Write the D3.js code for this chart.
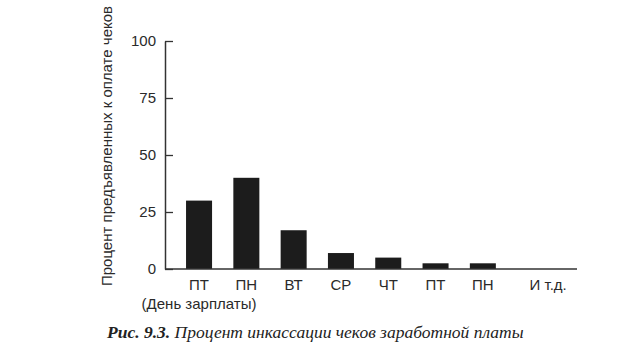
<!DOCTYPE html>
<html><head><meta charset="utf-8">
<script src="https://cdn.jsdelivr.net/npm/d3@7/dist/d3.min.js"></script>
<style>
body{margin:0;background:#fff;}
svg{display:block;}
.lbl{font-family:"Liberation Sans Narrow","Arial Narrow","Liberation Sans",sans-serif;fill:#2a2a2a;}
.cap{font-family:"Liberation Serif","DejaVu Serif",serif;font-style:italic;fill:#222;}
</style></head>
<body><svg id="c" width="626" height="355"></svg>
<script>
const categories = ["ПТ","ПН","ВТ","СР","ЧТ","ПТ","ПН","И т.д."];
const values = [30, 40, 17, 7, 5, 2.5, 2.5, null];
const yTicks = [0, 25, 50, 75, 100];
const yTitle = "Процент предъявленных к оплате чеков";
const xSubLabel = "(День зарплаты)";
const captionBold = "Рис. 9.3.";
const captionText = " Процент инкассации чеков заработной платы";

const svg = d3.select("#c");
const axisColor = "#333";
const y = d3.scaleLinear().domain([0,100]).range([269,41]);
const x = d3.scaleBand().domain(d3.range(categories.length)).range([175.4,553.8]).paddingInner(0.45).paddingOuter(0.225);

// bars
svg.append("g").selectAll("rect").data(values.map((v,i)=>({v,i})).filter(d=>d.v!=null))
  .join("rect")
  .attr("x", d=>x(d.i)).attr("width", x.bandwidth())
  .attr("y", d=>y(d.v)).attr("height", d=>y(0)-y(d.v))
  .attr("fill","#1c1c1c");

// y axis
const yAxis = svg.append("g").attr("transform","translate(165,0)")
  .call(d3.axisLeft(y).tickValues(yTicks).tickSizeInner(-8).tickSizeOuter(0).tickPadding(9));
yAxis.select(".domain").attr("stroke",axisColor).attr("stroke-width",1.5);
yAxis.selectAll(".tick line").attr("stroke",axisColor).attr("stroke-width",1.3);
yAxis.selectAll(".tick text").attr("class","lbl").attr("font-size",15).attr("fill","#2a2a2a");

// x baseline
svg.append("line").attr("x1",165).attr("x2",577).attr("y1",y(0)).attr("y2",y(0))
  .attr("stroke",axisColor).attr("stroke-width",1.5);

// x labels
const lastShift = 18;
svg.append("g").selectAll("text").data(categories).join("text")
  .attr("class","lbl").attr("font-size",15)
  .attr("x",(d,i)=>x(i)+x.bandwidth()/2 + (i===categories.length-1?lastShift:0))
  .attr("y",290).attr("text-anchor","middle").text(d=>d);

svg.append("text").attr("class","lbl").attr("font-size",15)
  .attr("x",x(0)+x.bandwidth()/2).attr("y",309).attr("text-anchor","middle").text(xSubLabel);

// y title
svg.append("text").attr("class","lbl").attr("font-size",15)
  .attr("transform","translate(112,146) rotate(-90)").attr("text-anchor","middle").text(yTitle);

// caption
const cap = svg.append("text").attr("class","cap").attr("font-size",17.5).attr("x",107).attr("y",338);
cap.append("tspan").attr("font-weight","bold").text(captionBold);
cap.append("tspan").text(captionText);
</script></body></html>
